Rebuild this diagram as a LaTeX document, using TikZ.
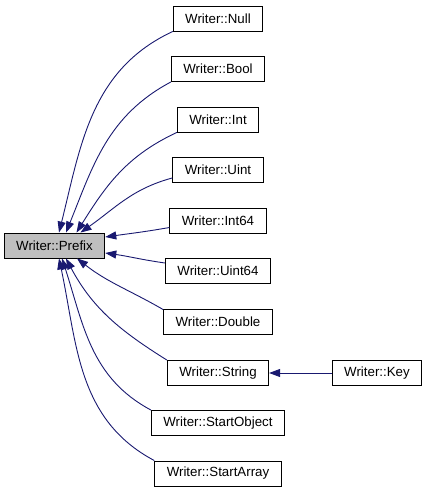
\documentclass[tikz,border=0pt]{standalone}
\usepackage{fontspec}
\setmainfont{Liberation Sans}
\usetikzlibrary{arrows.meta}

\definecolor{edgeblue}{RGB}{25,25,112}
\definecolor{rootgray}{RGB}{191,191,191}

\begin{document}
\begin{tikzpicture}[x=1pt, y=1pt,
  cls/.style={draw=black, line width=0.9pt, rectangle, minimum height=25pt,
    inner xsep=12pt, inner ysep=0pt, font=\fontsize{13.3}{16}\selectfont},
  root/.style={cls, fill=rootgray},
  inh/.style={edgeblue, line width=0.9pt, -{Triangle[length=11pt, width=8pt]}}]
\useasboundingbox (0,0) rectangle (427,493);
\def\cx{218}

\node[root] (prefix) at (54.5,247.5) {Writer::Prefix};

\node[cls] (null)        at (\cx,474.5) {Writer::Null};
\node[cls] (bool)        at (\cx,424)   {Writer::Bool};
\node[cls] (int)         at (\cx,373.5) {Writer::Int};
\node[cls] (uint)        at (\cx,323)   {Writer::Uint};
\node[cls] (int64)       at (\cx,272.5) {Writer::Int64};
\node[cls] (uint64)      at (\cx,222)   {Writer::Uint64};
\node[cls] (double)      at (\cx,171.5) {Writer::Double};
\node[cls] (string)      at (\cx,120)   {Writer::String};
\node[cls] (startobject) at (\cx,70)    {Writer::StartObject};
\node[cls] (startarray)  at (\cx,19.5)  {Writer::StartArray};
\node[cls] (key)         at (377,120)   {Writer::Key};

% edges into Writer::Prefix
\draw[inh] (null.south west)  to[out=205, in=76] ([xshift=4.5pt]prefix.north);
\draw[inh] (bool.south west)  to[out=208, in=68] ([xshift=11.5pt]prefix.north);
\draw[inh] (int.south west)   to[out=205, in=58] ([xshift=22pt]prefix.north);
\draw[inh] ([yshift=5pt]uint.south west) to[out=195, in=35] ([xshift=26pt]prefix.north);
\draw[inh] ([yshift=-7pt]int64.west)  to[out=190, in=8]  ([yshift=8.5pt]prefix.east);
\draw[inh] ([yshift=8pt]uint64.west) to[out=172, in=-8] ([yshift=-7.5pt]prefix.east);
\draw[inh] ([yshift=-1pt]double.north west) to[out=150, in=-38] ([xshift=22.5pt]prefix.south);
\draw[inh] (string.north west)      to[out=148, in=-62] ([xshift=11.5pt]prefix.south);
\draw[inh] (startobject.north west) to[out=152, in=-72] ([xshift=7.5pt]prefix.south);
\draw[inh] (startarray.north west)  to[out=152, in=-78] ([xshift=4.5pt]prefix.south);

\draw[inh] (key) -- (string);
\end{tikzpicture}
\end{document}
